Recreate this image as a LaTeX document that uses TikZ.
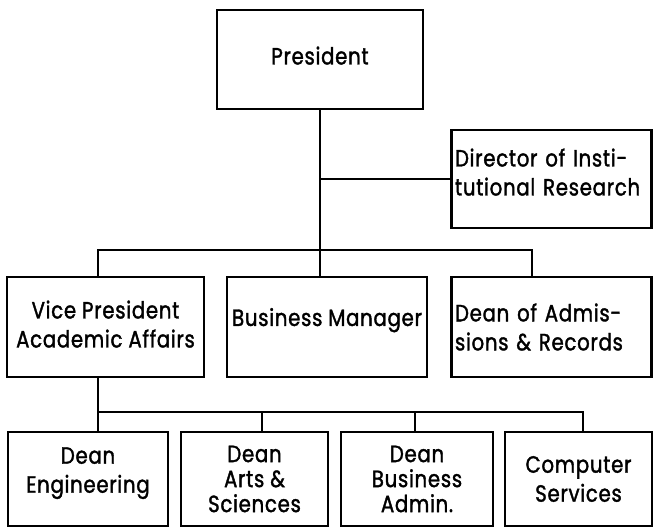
\documentclass[tikz,border=0pt]{standalone}
\usepackage{fontspec}
\setmainfont{Poppins}[FakeStretch=0.84, FakeBold=1.5, LetterSpace=3]
\newcommand\orgfont{\fontsize{23.5}{29}\selectfont}
\newcommand\orgfontsmall{\fontsize{23.5}{25}\selectfont}
\begin{document}
\begin{tikzpicture}[x=1pt,y=-1pt,
  box/.style={draw, line width=2.6pt, inner sep=0pt, align=center, font=\orgfont},
  wire/.style={line width=1.8pt}]
\useasboundingbox (0,0) rectangle (653,527);
% boxes
\node[box, minimum width=206pt, minimum height=99pt, text depth=8pt] (pres) at (320,59.5) {President};
\node[box, minimum width=200pt, minimum height=98pt, text width=193pt, align=left, text depth=43pt] (dir) at (551.5,179) {Director of Insti-\\tutional Research};
\node[box, minimum width=197pt, minimum height=100pt, text depth=6pt] (vp) at (105.5,327) {Vice President\\Academic Affairs};
\node[box, minimum width=200pt, minimum height=100pt, text depth=20pt] (bm) at (327,327) {Business Manager};
\node[box, minimum width=200pt, minimum height=100pt, text width=193pt, align=left] (da) at (551.5,327) {Dean of Admis-\\sions \& Records};
\node[box, minimum width=160pt, minimum height=94pt, text depth=18pt] (eng) at (88,479) {Dean\\Engineering};
\node[box, minimum width=147pt, minimum height=94pt, font=\orgfontsmall] (arts) at (254.5,479) {Dean\\Arts \&\\Sciences};
\node[box, minimum width=152pt, minimum height=94pt, font=\orgfontsmall] (busad) at (417,479) {Dean\\Business\\Admin.};
\node[box, minimum width=147pt, minimum height=94pt] (comp) at (578.5,479) {Computer\\Services};
% connector coordinates
\coordinate (tbL) at (98,250);
\coordinate (tbR) at (532,250);
\coordinate (bbL) at (98,412);
\coordinate (bbR) at (583,412);
\coordinate (d2) at (262,412);
\coordinate (d3) at (415,412);
% connectors
\draw[wire] (pres.south) -- (pres.south |- bm.north);
\draw[wire] (dir.west) -- (dir.west -| pres.south);
\draw[wire] (tbL |- vp.north) -- (tbL) -- (tbR) -- (tbR |- da.north);
\draw[wire] (bbL |- vp.south) -- (bbL |- eng.north);
\draw[wire] (bbL) -- (bbR) -- (bbR |- comp.north);
\draw[wire] (d2) -- (d2 |- arts.north);
\draw[wire] (d3) -- (d3 |- busad.north);
\end{tikzpicture}
\end{document}
